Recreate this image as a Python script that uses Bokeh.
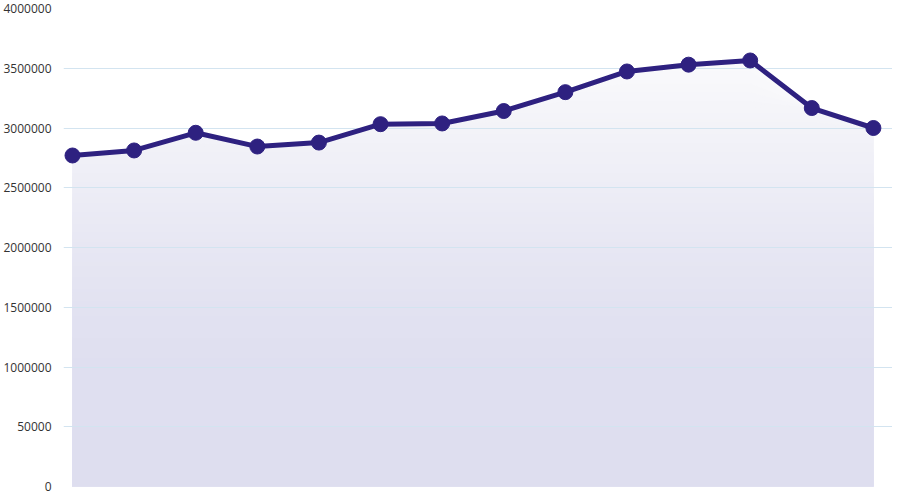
import numpy as np
from bokeh.plotting import figure
from bokeh.models import Range1d, FixedTicker, ColumnDataSource
from bokeh.embed import file_html
from bokeh.resources import INLINE

# ---- data ----
years = ["2006", "2007", "2008", "2009", "2010", "2011", "2012",
         "2013", "2014", "2015", "2016", "2017", "2018", "2019"]
values = [2770000, 2812000, 2960000, 2845000, 2878000, 3032000, 3038000,
          3142000, 3300000, 3473000, 3530000, 3565000, 3167000, 3000000]
y_ticks = [0, 500000, 1000000, 1500000, 2000000, 2500000, 3000000, 3500000, 4000000]
y_tick_labels = ["0", "50000", "1000000", "1500000", "2000000", "2500000",
                 "3000000", "3500000", "4000000"]

# gradient stops (value level -> fill colour)
grad_levels = [0, 1000000, 1500000, 2000000, 2500000, 3000000, 3600000]
grad_colors = ["#dedeef", "#dfdff0", "#e2e2f1", "#e7e7f3", "#ededf6", "#f3f3f8", "#fafafc"]

x = np.arange(len(years))
vals = np.array(values, dtype=float)

p = figure(width=892, height=494, output_backend="svg", toolbar_location=None,
           x_range=Range1d(-0.146, 13.31), y_range=Range1d(0, 4000000),
           min_border_top=8, min_border_bottom=8, min_border_right=0,
           min_border_left=0)
p.outline_line_color = None
p.background_fill_color = "white"
p.border_fill_color = "white"

# gradient area built from overlapping bands (top colours first, lower ones painted over)
def hex2rgb(h):
    h = h.lstrip("#")
    return np.array([int(h[i:i + 2], 16) for i in (0, 2, 4)], dtype=float)

stops_rgb = np.array([hex2rgb(c) for c in grad_colors])
edges = np.arange(0, vals.max() + 25000, 25000)[1:]
for hi in edges[::-1]:
    mid = hi - 12500
    rgb = [np.interp(mid, grad_levels, stops_rgb[:, k]) for k in range(3)]
    col = "#%02x%02x%02x" % tuple(int(round(c)) for c in rgb)
    r = p.varea(x=x, y1=np.zeros_like(vals), y2=np.minimum(vals, hi),
                fill_color=col, fill_alpha=1.0)
    r.level = "image"

src = ColumnDataSource(dict(x=x, y=vals, year=years))
p.line("x", "y", source=src, line_color="#2e2180", line_width=5, line_join="round")
p.scatter("x", "y", source=src, size=15, fill_color="#2e2180", line_color="#2e2180")

# axes
p.xaxis.visible = False
p.xgrid.visible = False
p.yaxis.ticker = FixedTicker(ticks=y_ticks)
p.yaxis.major_label_overrides = {t: l for t, l in zip(y_ticks, y_tick_labels)}
p.yaxis.axis_line_color = None
p.yaxis.major_tick_line_color = None
p.yaxis.minor_tick_line_color = None
p.yaxis.major_label_standoff = 6
p.yaxis.major_label_text_font = "Open Sans"
p.yaxis.major_label_text_font_size = "12px"
p.yaxis.major_label_text_color = "#333333"
p.ygrid.ticker = FixedTicker(ticks=y_ticks)
p.ygrid.grid_line_color = "#d3e4f0"
p.ygrid.grid_line_width = 1
p.ygrid.level = "underlay"

open("out.html", "w").write(file_html(p, INLINE))
